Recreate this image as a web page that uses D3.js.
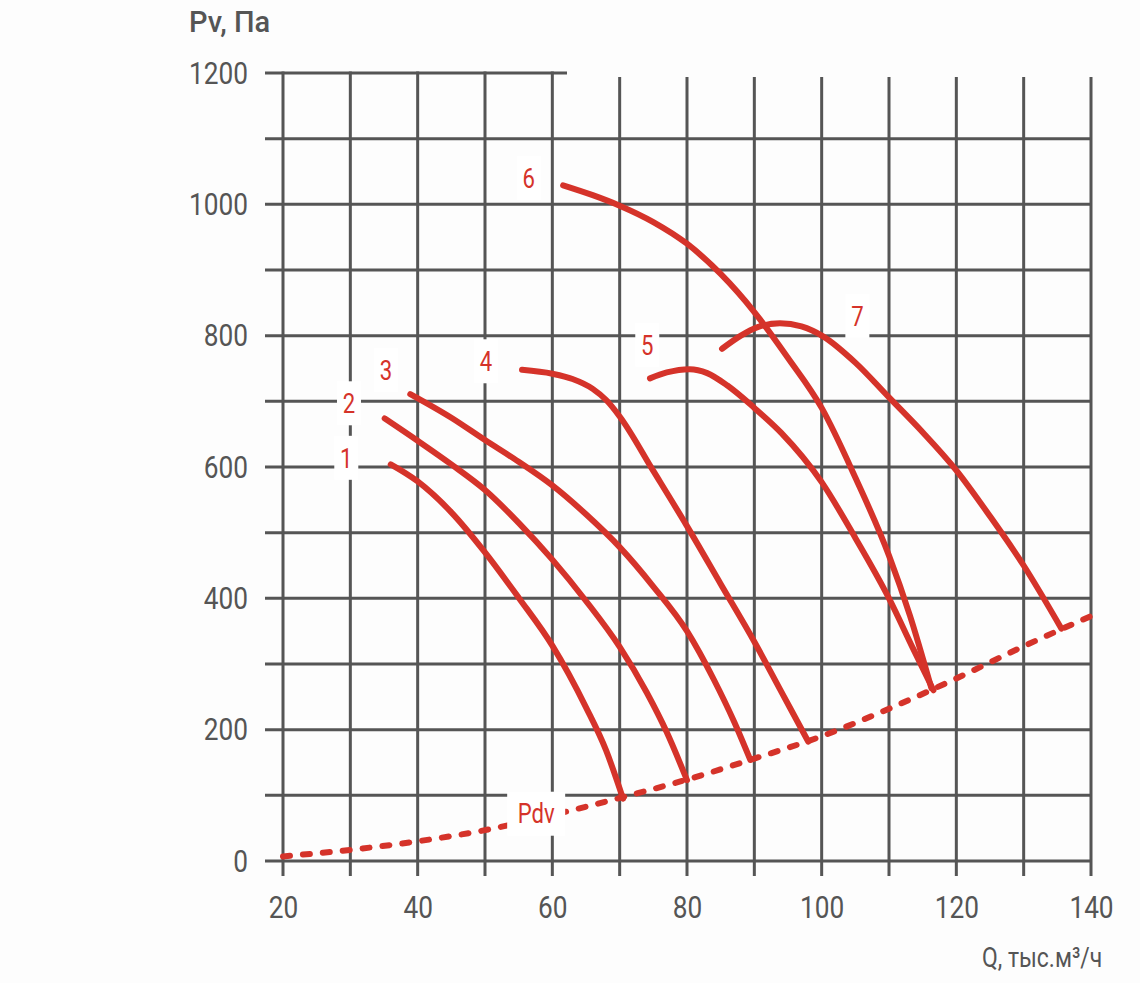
<html>
    <head>
        <title>Pv chart</title>
        <style>
            body { margin: 0; background: #fdfdfd; }
        </style>
    </head>
    <body>
        <svg id="container" width="1140" height="983" style="background:#fdfdfd">
            <g id="grid"></g>
            <g id="yAxis"></g>
            <g id="xAxis"></g>
            <g id="curves"></g>
            <g id="labels"></g>
        </svg>
    </body>
    <script src="https://d3js.org/d3.v7.min.js"></script>
    <script>
        // values: Q (thousand m3/h), Pv (Pa)
        let curve1 = [[36, 604], [40, 578], [45, 531], [50, 470], [55, 401], [60, 328], [65, 234], [68, 168], [70.5, 95]]
        let curve2 = [[35.1, 674], [40, 640], [45, 604], [50, 565], [55, 515], [60, 459], [65, 396], [70, 326], [74, 257], [77, 196], [80, 123]]
        let curve3 = [[38.9, 711], [45, 675], [50, 641], [55, 608], [60, 572], [65, 528], [70, 478], [75, 418], [80, 350], [84, 276], [87, 212], [89.4, 154]]
        let curve4 = [[55.5, 748], [60, 742], [63, 734], [66, 719], [68, 702], [70, 677], [75, 594], [80, 510], [85, 422], [90, 334], [94, 258], [98, 182]]
        let curve5 = [[74.5, 735], [77, 744], [80.4, 749], [83, 743], [86, 724], [90, 690], [94, 652], [100, 577], [105, 492], [110, 400], [113.6, 323], [116.6, 260]]
        let curve6 = [[61.6, 1029], [66, 1014], [70, 998], [75, 973], [80, 940], [85, 894], [90, 836], [95, 766], [100, 690], [105, 584], [110, 465], [113.1, 374], [116.3, 263]]
        let curve7 = [[85.2, 780], [88, 800], [90.5, 813], [93.8, 819], [97, 814], [100.2, 799], [105, 759], [110, 706], [115, 653], [120, 595], [125, 525], [130, 450], [135.6, 354]]
        let pdv = [[20, 7], [30, 17], [40, 30], [50, 47], [60, 70], [70, 96], [80, 124], [90, 156], [100, 190], [110, 232], [120, 278], [130, 327], [140, 373]]

        let curves = [curve1, curve2, curve3, curve4, curve5, curve6, curve7]
        let curveNames = ["1", "2", "3", "4", "5", "6", "7", "Pdv"]
        // where each name sits, in chart units
        let namePlaces = [[29.4, 614], [29.8, 697], [35.3, 748], [50.15, 761], [74.1, 786], [56.5, 1040], [105.3, 830], [57.6, 72]]

        let xGrid = d3.range(20, 141, 10)
        let yGrid = d3.range(0, 1201, 100)
        let xTicks = [20, 40, 60, 80, 100, 120, 140]
        let yTicks = [0, 200, 400, 600, 800, 1000, 1200]

        let red = "#d5332a"
        let grey = "#555555"
        let squeeze = 0.82   // the picture uses a condensed face, Roboto is narrowed to match

        let container = d3.select("#container")
        let x = d3.scaleLinear().domain([20, 140]).range([283, 1091])
        let y = d3.scaleLinear().domain([0, 1200]).range([861, 73])

        let grid = d3.select("#grid")
        grid.selectAll(".h").data(yGrid).enter()
            .append("line")
            .attr("x1", 265).attr("x2", x(140))
            .attr("y1", d => y(d)).attr("y2", d => y(d))
            .style("stroke", grey).style("stroke-width", 3)
        grid.selectAll(".v").data(xGrid).enter()
            .append("line")
            .attr("x1", d => x(d)).attr("x2", d => x(d))
            .attr("y1", y(1200) - 1.5).attr("y2", 876)
            .style("stroke", grey).style("stroke-width", 3)
        // blank corner at top right
        grid.append("rect")
            .attr("x", 567).attr("y", 0)
            .attr("width", 600).attr("height", 77)
            .style("fill", "#fdfdfd")

        let yAxis = d3.axisLeft(y).tickValues(yTicks).tickFormat(d3.format("d")).tickSize(0).tickPadding(35)
        d3.select("#yAxis")
            .attr("transform", "translate(283, 0)")
            .call(yAxis)
        let xAxis = d3.axisBottom(x).tickValues(xTicks).tickFormat(d3.format("d")).tickSize(0).tickPadding(34)
        d3.select("#xAxis")
            .attr("transform", "translate(0, 861)")
            .call(xAxis)
        container.selectAll(".domain").remove()
        container.selectAll(".tick text")
            .attr("x", function() { return (+d3.select(this).attr("x") || 0) / squeeze })
            .attr("transform", "scale(" + squeeze + ",1)")
            .style("font-family", "Roboto, sans-serif")
            .style("font-size", "32px")
            .style("fill", grey)

        container.append("text")
            .attr("x", 189).attr("y", 32)
            .style("font-family", "Roboto, sans-serif")
            .style("font-size", "29px")
            .style("font-weight", 500)
            .style("fill", grey)
            .text("Pv, Па")
        container.append("text")
            .attr("transform", "translate(982,967) scale(" + squeeze + ",1)")
            .style("font-family", "Roboto, sans-serif")
            .style("font-size", "28px")
            .style("fill", grey)
            .text("Q, тыс.м³/ч")

        let line = d3.line()
                     .x(d => x(d[0]))
                     .y(d => y(d[1]))
                     .curve(d3.curveMonotoneX)

        let curveGroup = d3.select("#curves")
        curveGroup.append("path")
            .datum(pdv)
            .attr("d", line)
            .style("fill", "none")
            .style("stroke", red)
            .style("stroke-width", 6)
            .style("stroke-linecap", "round")
            .style("stroke-dasharray", "7,13")
        curveGroup.selectAll(".curve").data(curves).enter()
            .append("path")
            .attr("d", line)
            .style("fill", "none")
            .style("stroke", red)
            .style("stroke-width", 6)
            .style("stroke-linecap", "round")

        let labels = d3.select("#labels").selectAll("g").data(curveNames).enter()
            .append("g")
            .attr("transform", (d, i) => "translate(" + x(namePlaces[i][0]) + "," + y(namePlaces[i][1]) + ")")
        labels.append("rect")
            .attr("x", d => d.length > 1 ? -29 : -12)
            .attr("y", -22)
            .attr("width", d => d.length > 1 ? 58 : 24)
            .attr("height", 44)
            .style("fill", "white")
        labels.append("text")
            .attr("text-anchor", "middle")
            .attr("dy", "0.36em")
            .attr("transform", "scale(" + squeeze + ",1)")
            .style("font-family", "Roboto, sans-serif")
            .style("font-size", "27px")
            .style("fill", red)
            .text(d => d)
    </script>
</html>
